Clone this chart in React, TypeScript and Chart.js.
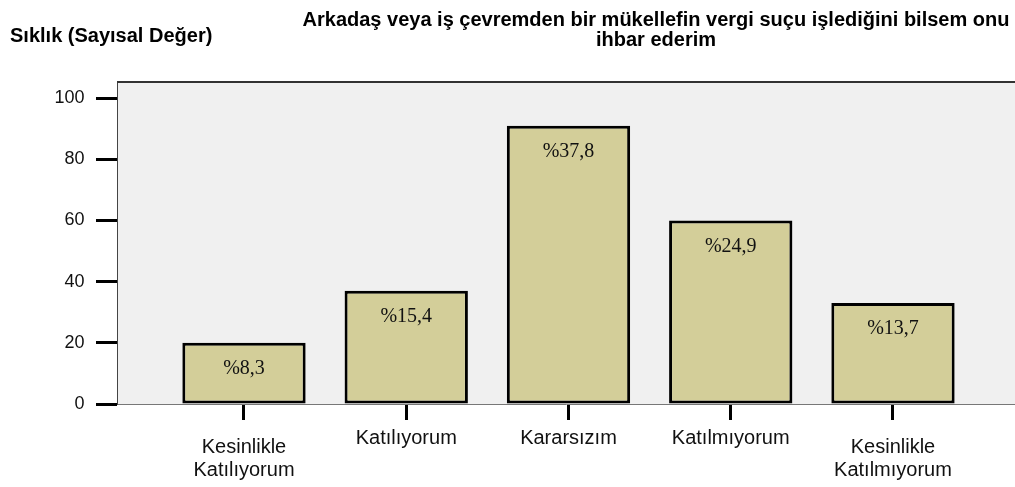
import React, { useEffect, useRef } from "react";
import { Chart, registerables } from "chart.js";

Chart.register(...registerables);

const categories: string[][] = [
  ["Kesinlikle", "Katılıyorum"],
  ["Katılıyorum"],
  ["Kararsızım"],
  ["Katılmıyorum"],
  ["Kesinlikle", "Katılmıyorum"],
];
const counts: number[] = [20, 37, 91, 60, 33];
const percents: string[] = ["%8,3", "%15,4", "%37,8", "%24,9", "%13,7"];
const yTicks: number[] = [0, 20, 40, 60, 80, 100];
const titleLines: string[] = [
  "Arkadaş veya iş çevremden bir mükellefin vergi suçu işlediğini bilsem onu",
  "ihbar ederim",
];
const yAxisTitle = "Sıklık (Sayısal Değer)";

const SANS = '"Liberation Sans", Arial, Helvetica, sans-serif';
const SERIF = '"Liberation Serif", "Times New Roman", serif';

const W = 1015;
const H = 487;

const decorPlugin = {
  id: "decor",
  beforeDraw(chart: any) {
    const { ctx, chartArea } = chart;
    ctx.save();
    ctx.fillStyle = "#f0f0f0";
    ctx.fillRect(chartArea.left, chartArea.top, chartArea.right - chartArea.left, chartArea.bottom - chartArea.top);
    ctx.restore();
  },
  afterDatasetsDraw(chart: any) {
    const { ctx, chartArea } = chart;
    const meta = chart.getDatasetMeta(0);
    ctx.save();
    ctx.fillStyle = "#111";
    ctx.font = `20px ${SERIF}`;
    ctx.textAlign = "center";
    ctx.textBaseline = "alphabetic";
    meta.data.forEach((bar: any, i: number) => {
      ctx.fillText(percents[i], bar.x, bar.y + 31);
    });
    ctx.strokeStyle = "#333";
    ctx.lineWidth = 2;
    ctx.beginPath();
    ctx.moveTo(chartArea.left, chartArea.top);
    ctx.lineTo(chartArea.right, chartArea.top);
    ctx.stroke();
    ctx.restore();
  },
  afterDraw(chart: any) {
    const { ctx } = chart;
    ctx.save();
    ctx.fillStyle = "#000";
    ctx.textBaseline = "alphabetic";
    ctx.font = `bold 20px ${SANS}`;
    ctx.textAlign = "left";
    ctx.fillText(yAxisTitle, 10, 42);
    ctx.textAlign = "center";
    ctx.fillText(titleLines[0], 656, 26);
    ctx.fillText(titleLines[1], 656, 46);
    ctx.restore();
  },
};

export default function App() {
  const ref = useRef<HTMLCanvasElement | null>(null);
  useEffect(() => {
    if (!ref.current) return;
    const chart = new Chart(ref.current, {
      type: "bar",
      data: {
        datasets: [
          {
            data: counts.map((c, i) => ({ x: i + 1, y: c })),
            backgroundColor: "rgb(211,206,153)",
            borderColor: "#000",
            borderWidth: 3,
            borderSkipped: false,
            barPercentage: 0.76,
            categoryPercentage: 1,
          },
        ],
      },
      options: {
        responsive: false,
        animation: false,
        layout: { padding: { top: 82, left: 0, right: 0, bottom: 0 } },
        plugins: {
          legend: { display: false },
          title: { display: false },
          tooltip: { enabled: false },
        },
        scales: {
          x: {
            type: "linear",
            min: 0.2173,
            max: 5.752,
            offset: false,
            afterBuildTicks: (scale: any) => {
              scale.ticks = categories.map((_, i) => ({ value: i + 1 }));
            },
            afterFit: (scale: any) => {
              scale.height = 83;
            },
            grid: {
              display: true,
              offset: false,
              drawOnChartArea: false,
              drawTicks: true,
              tickLength: 16,
              tickWidth: 3,
              tickColor: "#000",
            },
            border: { display: true, color: "#777", width: 1 },
            ticks: {
              autoSkip: false,
              maxRotation: 0,
              minRotation: 0,
              padding: 15.4,
              color: "#111",
              font: (ctx: any) => ({
                family: SANS,
                size: 20,
                lineHeight: categories[ctx.index] && categories[ctx.index].length > 1 ? "23.3px" : "5.3px",
              }),
              callback: (_v: any, index: number) => categories[index],
            },
          },
          y: {
            type: "linear",
            min: 0,
            max: 105.3,
            afterBuildTicks: (scale: any) => {
              scale.ticks = yTicks.map((v) => ({ value: v }));
            },
            afterFit: (scale: any) => {
              scale.width = 117;
            },
            grid: {
              display: true,
              drawOnChartArea: false,
              drawTicks: true,
              tickLength: 21,
              tickWidth: 3,
              tickColor: "#000",
            },
            border: { display: true, color: "#444", width: 1 },
            ticks: {
              padding: 11.5,
              color: "#111",
              font: { family: SANS, size: 18 },
              callback: (v: any) => String(v),
            },
          },
        },
      },
      plugins: [decorPlugin],
    } as any);
    return () => chart.destroy();
  }, []);
  return (
    <div style={{ position: "fixed", left: 0, top: 0, width: W, height: H, background: "#fff" }}>
      <canvas ref={ref} width={W} height={H} style={{ width: W, height: H, display: "block" }} />
    </div>
  );
}
